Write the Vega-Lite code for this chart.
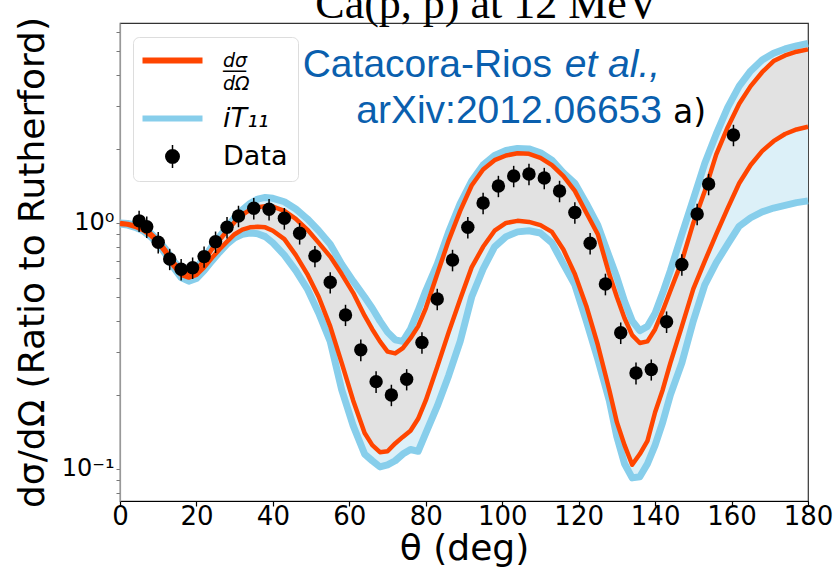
{
  "$schema": "https://vega.github.io/schema/vega-lite/v6.json",
  "width": 688,
  "height": 478,
  "autosize": {"type": "none"},
  "padding": {"left": 120, "top": 23, "right": 29, "bottom": 66},
  "background": "white",
  "title": {"text": "Ca(p, p) at 12 MeV", "font": "Liberation Serif", "fontSize": 44, "fontWeight": "normal", "color": "black", "anchor": "middle", "baseline": "alphabetic", "offset": -45, "dx": 23},
  "config": {
    "view": {"stroke": "#333", "strokeWidth": 1.2},
    "axis": {"grid": false},
    "axisX": {"labelFont": "DejaVu Sans", "labelFontSize": 26, "labelColor": "black", "tickColor": "black", "tickSize": 5, "tickWidth": 1.2, "domainColor": "black", "domainWidth": 1.2, "labelPadding": -3, "labelFlush": false, "labelOverlap": false, "titleFont": "DejaVu Sans", "titleFontSize": 36, "titleFontWeight": "normal", "titleColor": "black", "titleY": 58, "titleBaseline": "alphabetic"},
    "axisY": {"labelFont": "DejaVu Sans", "labelFontSize": 24, "labelColor": "black", "tickColor": "#777", "tickSize": 4, "tickWidth": 1, "domainColor": "#999", "domainWidth": 1.2, "labelPadding": 2, "labelOverlap": false, "titleFont": "DejaVu Sans", "titleFontSize": 36, "titleFontWeight": "normal", "titleColor": "black", "titleX": -77, "titleBaseline": "alphabetic"}
  },
  "datasets": {
    "curves": [
      {"x": 0, "bu": 1.0, "ou": 1.0, "ol": 0.99, "bl": 0.99},
      {"x": 2, "bu": 0.995, "ou": 0.99, "ol": 0.985, "bl": 0.98},
      {"x": 4, "bu": 0.98, "ou": 0.975, "ol": 0.965, "bl": 0.96},
      {"x": 6, "bu": 0.955, "ou": 0.95, "ol": 0.935, "bl": 0.93},
      {"x": 8, "bu": 0.91, "ou": 0.905, "ol": 0.89, "bl": 0.88},
      {"x": 10, "bu": 0.85, "ou": 0.845, "ol": 0.83, "bl": 0.82},
      {"x": 12, "bu": 0.78, "ou": 0.77, "ol": 0.755, "bl": 0.745},
      {"x": 14, "bu": 0.7, "ou": 0.69, "ol": 0.67, "bl": 0.66},
      {"x": 16, "bu": 0.65, "ou": 0.64, "ol": 0.615, "bl": 0.6},
      {"x": 18, "bu": 0.635, "ou": 0.625, "ol": 0.6, "bl": 0.58},
      {"x": 20, "bu": 0.66, "ou": 0.65, "ol": 0.615, "bl": 0.595},
      {"x": 22, "bu": 0.72, "ou": 0.7, "ol": 0.66, "bl": 0.64},
      {"x": 24, "bu": 0.8, "ou": 0.78, "ol": 0.72, "bl": 0.7},
      {"x": 26, "bu": 0.88, "ou": 0.85, "ol": 0.78, "bl": 0.76},
      {"x": 28, "bu": 0.96, "ou": 0.93, "ol": 0.84, "bl": 0.82},
      {"x": 30, "bu": 1.05, "ou": 1.01, "ol": 0.9, "bl": 0.87},
      {"x": 32, "bu": 1.13, "ou": 1.08, "ol": 0.94, "bl": 0.9},
      {"x": 34, "bu": 1.2, "ou": 1.13, "ol": 0.96, "bl": 0.91},
      {"x": 36, "bu": 1.25, "ou": 1.16, "ol": 0.965, "bl": 0.905},
      {"x": 38, "bu": 1.27, "ou": 1.17, "ol": 0.96, "bl": 0.88},
      {"x": 40, "bu": 1.26, "ou": 1.165, "ol": 0.93, "bl": 0.83},
      {"x": 43, "bu": 1.22, "ou": 1.12, "ol": 0.86, "bl": 0.74},
      {"x": 46, "bu": 1.14, "ou": 1.04, "ol": 0.74, "bl": 0.64},
      {"x": 49, "bu": 1.04, "ou": 0.94, "ol": 0.62, "bl": 0.54},
      {"x": 52, "bu": 0.93, "ou": 0.83, "ol": 0.5, "bl": 0.43},
      {"x": 55, "bu": 0.82, "ou": 0.73, "ol": 0.38, "bl": 0.33},
      {"x": 58, "bu": 0.68, "ou": 0.62, "ol": 0.27, "bl": 0.21},
      {"x": 61, "bu": 0.58, "ou": 0.52, "ol": 0.19, "bl": 0.15},
      {"x": 64, "bu": 0.5, "ou": 0.42, "ol": 0.14, "bl": 0.115},
      {"x": 66, "bu": 0.45, "ou": 0.37, "ol": 0.125, "bl": 0.108},
      {"x": 68, "bu": 0.4, "ou": 0.33, "ol": 0.117, "bl": 0.102},
      {"x": 70, "bu": 0.36, "ou": 0.3, "ol": 0.118, "bl": 0.104},
      {"x": 72, "bu": 0.335, "ou": 0.295, "ol": 0.127, "bl": 0.108},
      {"x": 74, "bu": 0.33, "ou": 0.31, "ol": 0.135, "bl": 0.115},
      {"x": 76, "bu": 0.37, "ou": 0.34, "ol": 0.143, "bl": 0.12},
      {"x": 78, "bu": 0.44, "ou": 0.38, "ol": 0.16, "bl": 0.118},
      {"x": 80, "bu": 0.53, "ou": 0.45, "ol": 0.19, "bl": 0.14},
      {"x": 83, "bu": 0.68, "ou": 0.62, "ol": 0.26, "bl": 0.18},
      {"x": 86, "bu": 0.92, "ou": 0.85, "ol": 0.36, "bl": 0.24},
      {"x": 89, "bu": 1.2, "ou": 1.12, "ol": 0.49, "bl": 0.33},
      {"x": 92, "bu": 1.48, "ou": 1.42, "ol": 0.66, "bl": 0.5},
      {"x": 95, "bu": 1.72, "ou": 1.65, "ol": 0.8, "bl": 0.65},
      {"x": 98, "bu": 1.88, "ou": 1.8, "ol": 0.93, "bl": 0.8},
      {"x": 101, "bu": 1.97, "ou": 1.88, "ol": 1.0, "bl": 0.88},
      {"x": 104, "bu": 2.01, "ou": 1.92, "ol": 1.02, "bl": 0.92},
      {"x": 107, "bu": 2.0, "ou": 1.91, "ol": 1.01, "bl": 0.93},
      {"x": 110, "bu": 1.93, "ou": 1.84, "ol": 0.98, "bl": 0.91},
      {"x": 113, "bu": 1.8, "ou": 1.72, "ol": 0.92, "bl": 0.83},
      {"x": 116, "bu": 1.6, "ou": 1.55, "ol": 0.78, "bl": 0.68},
      {"x": 119, "bu": 1.45, "ou": 1.35, "ol": 0.62, "bl": 0.56},
      {"x": 122, "bu": 1.2, "ou": 1.1, "ol": 0.46, "bl": 0.4},
      {"x": 125, "bu": 0.98, "ou": 0.9, "ol": 0.32, "bl": 0.28},
      {"x": 128, "bu": 0.73, "ou": 0.62, "ol": 0.21, "bl": 0.19},
      {"x": 130, "bu": 0.6, "ou": 0.5, "ol": 0.155, "bl": 0.135},
      {"x": 132, "bu": 0.48, "ou": 0.41, "ol": 0.125, "bl": 0.105},
      {"x": 134, "bu": 0.4, "ou": 0.35, "ol": 0.104, "bl": 0.092},
      {"x": 136, "bu": 0.365, "ou": 0.325, "ol": 0.115, "bl": 0.093},
      {"x": 138, "bu": 0.38, "ou": 0.33, "ol": 0.13, "bl": 0.105},
      {"x": 140, "bu": 0.43, "ou": 0.37, "ol": 0.17, "bl": 0.125},
      {"x": 142, "bu": 0.52, "ou": 0.44, "ol": 0.21, "bl": 0.155},
      {"x": 144, "bu": 0.64, "ou": 0.53, "ol": 0.27, "bl": 0.2},
      {"x": 147, "bu": 0.9, "ou": 0.7, "ol": 0.38, "bl": 0.27},
      {"x": 150, "bu": 1.25, "ou": 1.0, "ol": 0.54, "bl": 0.4},
      {"x": 153, "bu": 1.75, "ou": 1.35, "ol": 0.7, "bl": 0.56},
      {"x": 156, "bu": 2.3, "ou": 1.9, "ol": 0.9, "bl": 0.69},
      {"x": 159, "bu": 2.95, "ou": 2.45, "ol": 1.15, "bl": 0.82},
      {"x": 162, "bu": 3.6, "ou": 3.05, "ol": 1.45, "bl": 0.97},
      {"x": 165, "bu": 4.15, "ou": 3.6, "ol": 1.72, "bl": 1.05},
      {"x": 168, "bu": 4.6, "ou": 4.1, "ol": 1.96, "bl": 1.11},
      {"x": 171, "bu": 4.9, "ou": 4.55, "ol": 2.15, "bl": 1.15},
      {"x": 174, "bu": 5.1, "ou": 4.8, "ol": 2.3, "bl": 1.18},
      {"x": 177, "bu": 5.25, "ou": 4.97, "ol": 2.4, "bl": 1.21},
      {"x": 180, "bu": 5.37, "ou": 5.08, "ol": 2.46, "bl": 1.23}
    ],
    "points": [
      {"x": 5, "y": 1.02, "err": 0.1},
      {"x": 7, "y": 0.966, "err": 0.097},
      {"x": 10, "y": 0.835, "err": 0.084},
      {"x": 13, "y": 0.714, "err": 0.071},
      {"x": 16, "y": 0.648, "err": 0.065},
      {"x": 19, "y": 0.658, "err": 0.066},
      {"x": 22, "y": 0.73, "err": 0.073},
      {"x": 25, "y": 0.839, "err": 0.084},
      {"x": 28, "y": 0.961, "err": 0.096},
      {"x": 31, "y": 1.068, "err": 0.107},
      {"x": 35, "y": 1.148, "err": 0.115},
      {"x": 39, "y": 1.137, "err": 0.114},
      {"x": 43, "y": 1.045, "err": 0.105},
      {"x": 47, "y": 0.908, "err": 0.091},
      {"x": 51, "y": 0.734, "err": 0.073},
      {"x": 55, "y": 0.574, "err": 0.057},
      {"x": 59, "y": 0.423, "err": 0.042},
      {"x": 63, "y": 0.305, "err": 0.031},
      {"x": 67, "y": 0.2265, "err": 0.023},
      {"x": 71, "y": 0.2, "err": 0.02},
      {"x": 75, "y": 0.2316, "err": 0.023},
      {"x": 79, "y": 0.327, "err": 0.033},
      {"x": 83, "y": 0.491, "err": 0.049},
      {"x": 87, "y": 0.707, "err": 0.071},
      {"x": 91, "y": 0.961, "err": 0.096},
      {"x": 95, "y": 1.206, "err": 0.121},
      {"x": 99, "y": 1.414, "err": 0.141},
      {"x": 103, "y": 1.552, "err": 0.155},
      {"x": 107, "y": 1.582, "err": 0.158},
      {"x": 111, "y": 1.523, "err": 0.152},
      {"x": 115, "y": 1.349, "err": 0.135},
      {"x": 119, "y": 1.103, "err": 0.11},
      {"x": 123, "y": 0.827, "err": 0.083},
      {"x": 127, "y": 0.565, "err": 0.057},
      {"x": 131, "y": 0.358, "err": 0.036},
      {"x": 135, "y": 0.2456, "err": 0.025},
      {"x": 139, "y": 0.2537, "err": 0.025},
      {"x": 143, "y": 0.397, "err": 0.04},
      {"x": 147, "y": 0.678, "err": 0.068},
      {"x": 151, "y": 1.088, "err": 0.109},
      {"x": 154, "y": 1.44, "err": 0.144},
      {"x": 160.5, "y": 2.279, "err": 0.228}
    ]
  },
  "layer": [
    {
      "data": {"name": "curves"},
      "mark": {"type": "area", "color": "#dcf0f8", "opacity": 1},
      "encoding": {
        "x": {"field": "x", "type": "quantitative", "scale": {"domain": [0, 180], "nice": false, "zero": false}, "title": "θ (deg)", "axis": {"values": [0, 20, 40, 60, 80, 100, 120, 140, 160, 180]}},
        "y": {"field": "bl", "type": "quantitative", "scale": {"type": "log", "domain": [0.0741, 6.5], "nice": false}, "title": "dσ/dΩ (Ratio to Rutherford)", "axis": {"values": [0.08, 0.09, 0.1, 0.2, 0.3, 0.4, 0.5, 0.6, 0.7, 0.8, 0.9, 1, 2, 3, 4, 5, 6], "labelExpr": "datum.value == 1 ? '10⁰' : (datum.value == 0.1 ? '10⁻¹' : '')"}},
        "y2": {"field": "bu"}
      }
    },
    {
      "data": {"name": "curves"},
      "mark": {"type": "area", "color": "#e2e2e2", "opacity": 1},
      "encoding": {
        "x": {"field": "x", "type": "quantitative", "title": "θ (deg)"},
        "y": {"field": "ol", "type": "quantitative", "title": "dσ/dΩ (Ratio to Rutherford)"},
        "y2": {"field": "ou"}
      }
    },
    {
      "data": {"name": "curves"},
      "mark": {"type": "line", "strokeWidth": 7, "strokeJoin": "round"},
      "encoding": {
        "x": {"field": "x", "type": "quantitative", "title": "θ (deg)"},
        "y": {"field": "bu", "type": "quantitative", "title": "dσ/dΩ (Ratio to Rutherford)"},
        "color": {
          "datum": "iT₁₁",
          "scale": {"domain": ["dσ/dΩ", "iT₁₁", "Data"], "range": ["#FF4500", "#87CEEB", "black"]},
          "legend": {
            "orient": "none", "legendX": 13, "legendY": 14, "title": null,
            "labelFont": "DejaVu Sans", "labelFontSize": 27, "labelColor": "black", "labelOffset": 37,
            "labelExpr": "datum.label === 'dσ/dΩ' ? ['dσ', '──', 'dΩ'] : datum.label",
            "symbolType": "stroke", "symbolSize": 3600, "symbolStrokeWidth": 6, "symbolOffset": 16,
            "rowPadding": 10, "padding": 10,
            "fillColor": "rgba(255,255,255,0.85)", "strokeColor": "#dddddd", "cornerRadius": 6,
            "encode": {
              "symbols": {"update": {
                "shape": {"signal": "datum.value === 'Data' ? 'M-1,0A1,1 0 1,1 1,0A1,1 0 1,1 -1,0ZM0,-1.7L0,1.7' : 'stroke'"},
                "size": {"signal": "datum.value === 'Data' ? 180 : 3600"},
                "strokeWidth": {"signal": "datum.value === 'Data' ? 1.5 : 6"},
                "fill": {"signal": "datum.value === 'Data' ? 'black' : 'transparent'"},
                "stroke": {"signal": "datum.value === 'Data' ? 'black' : (datum.value === 'iT₁₁' ? '#87CEEB' : '#FF4500')"},
                "opacity": {"value": 1}
              }},
              "labels": {"update": {
                "fontStyle": {"signal": "datum.value === 'Data' ? 'normal' : 'italic'"},
                "fontSize": {"signal": "datum.value === 'dσ/dΩ' ? 19 : 27"},
                "lineHeight": {"value": 11.5}
              }}
            }
          }
        }
      }
    },
    {
      "data": {"name": "curves"},
      "mark": {"type": "line", "strokeWidth": 7, "strokeJoin": "round"},
      "encoding": {
        "x": {"field": "x", "type": "quantitative", "title": "θ (deg)"},
        "y": {"field": "bl", "type": "quantitative", "title": "dσ/dΩ (Ratio to Rutherford)"},
        "color": {"datum": "iT₁₁"}
      }
    },
    {
      "data": {"name": "curves"},
      "mark": {"type": "line", "strokeWidth": 4.5, "strokeJoin": "round"},
      "encoding": {
        "x": {"field": "x", "type": "quantitative", "title": "θ (deg)"},
        "y": {"field": "ou", "type": "quantitative", "title": "dσ/dΩ (Ratio to Rutherford)"},
        "color": {"datum": "dσ/dΩ"}
      }
    },
    {
      "data": {"name": "curves"},
      "mark": {"type": "line", "strokeWidth": 4.5, "strokeJoin": "round"},
      "encoding": {
        "x": {"field": "x", "type": "quantitative", "title": "θ (deg)"},
        "y": {"field": "ol", "type": "quantitative", "title": "dσ/dΩ (Ratio to Rutherford)"},
        "color": {"datum": "dσ/dΩ"}
      }
    },
    {
      "data": {"name": "points"},
      "mark": {"type": "errorbar", "color": "black", "thickness": 1.5},
      "encoding": {
        "x": {"field": "x", "type": "quantitative", "title": "θ (deg)"},
        "y": {"field": "y", "type": "quantitative", "title": "dσ/dΩ (Ratio to Rutherford)"},
        "yError": {"field": "err"}
      }
    },
    {
      "data": {"name": "points"},
      "mark": {"type": "circle", "size": 180, "opacity": 1},
      "encoding": {
        "x": {"field": "x", "type": "quantitative", "title": "θ (deg)"},
        "y": {"field": "y", "type": "quantitative", "title": "dσ/dΩ (Ratio to Rutherford)"},
        "color": {"datum": "Data"}
      }
    },
    {
      "data": {"values": [{"x": 47.8, "y": 3.92, "text": "Catacora-Rios"}]},
      "mark": {"type": "text", "align": "left", "baseline": "alphabetic", "font": "Liberation Sans", "fontSize": 39, "color": "#0a5fae"},
      "encoding": {
        "x": {"field": "x", "type": "quantitative"},
        "y": {"field": "y", "type": "quantitative"},
        "text": {"field": "text"}
      }
    },
    {
      "data": {"values": [{"x": 141.3, "y": 3.92, "text": "et al.,"}]},
      "mark": {"type": "text", "align": "right", "baseline": "alphabetic", "font": "Liberation Sans", "fontSize": 39, "fontStyle": "italic", "color": "#0a5fae"},
      "encoding": {
        "x": {"field": "x", "type": "quantitative"},
        "y": {"field": "y", "type": "quantitative"},
        "text": {"field": "text"}
      }
    },
    {
      "data": {"values": [{"x": 141.8, "y": 2.55, "text": "arXiv:2012.06653"}]},
      "mark": {"type": "text", "align": "right", "baseline": "alphabetic", "font": "Liberation Sans", "fontSize": 39, "color": "#0a5fae"},
      "encoding": {
        "x": {"field": "x", "type": "quantitative"},
        "y": {"field": "y", "type": "quantitative"},
        "text": {"field": "text"}
      }
    },
    {
      "data": {"values": [{"x": 144.7, "y": 2.55, "text": "a)"}]},
      "mark": {"type": "text", "align": "left", "baseline": "alphabetic", "font": "DejaVu Sans", "fontSize": 33, "color": "black"},
      "encoding": {
        "x": {"field": "x", "type": "quantitative"},
        "y": {"field": "y", "type": "quantitative"},
        "text": {"field": "text"}
      }
    }
  ]
}
